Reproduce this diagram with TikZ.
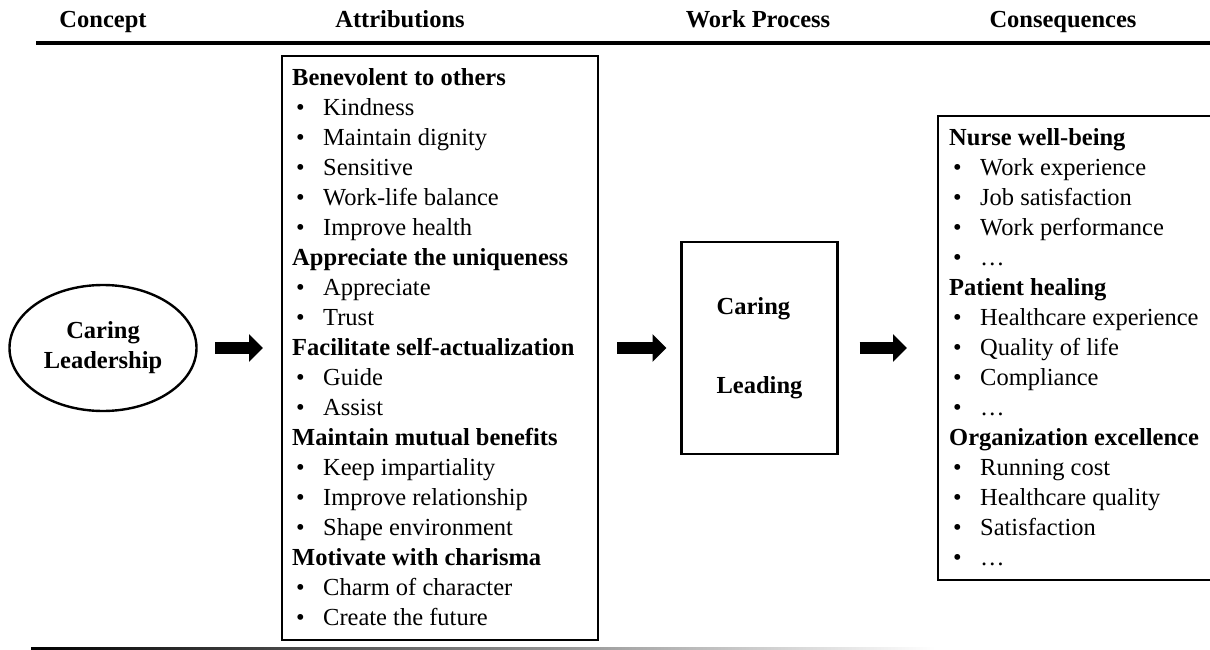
\documentclass[tikz,border=0pt]{standalone}
\usepackage{fontspec}
\setmainfont{Liberation Serif}
\usetikzlibrary{arrows.meta,shapes.geometric}

\newcommand{\bodyfont}{\fontsize{24.5pt}{30pt}\selectfont}
\newcommand{\itm}[1]{\hspace*{4pt}\makebox[27pt][l]{\textbullet}#1}

\begin{document}
\begin{tikzpicture}[x=1pt, y=-1pt, font=\bodyfont]

    \tikzstyle{head} = [font=\bodyfont\bfseries, anchor=base, inner sep=0pt]
    \tikzstyle{box} = [draw, line width=2.4pt, inner sep=0pt]
    \tikzstyle{list} = [align=left, anchor=west, inner sep=0pt]
    \tikzstyle{bigarrow} = [line width=12pt, -{Triangle[length=14pt,width=27pt]}]

    \useasboundingbox (0,0) rectangle (1210,650);
    \clip (0,0) rectangle (1210,650);

    % Column heads and rules
    \node[head] (concept) at (103,28) {Concept};
    \node[head] (attr) at (400,28) {Attributions};
    \node[head] (work) at (758,28) {Work Process};
    \node[head] (cons) at (1063,28) {Consequences};
    \draw[line width=4pt] (36,43) -- (1210,43);
    \shade[left color=black, right color=white] (31,647) rectangle (935,650.5);

    % Concept
    \node[box, ellipse, minimum width=187pt, minimum height=126pt,
        font=\bodyfont\bfseries, align=center] (lead) at (103,348) {Caring\\Leadership};

    % Attributions
    \node[box, minimum width=316pt, minimum height=584pt] (attrbox) at (440,348) {};
    \node[list] (attrlist) at (292,347) {\textbf{Benevolent to others}\\
        \itm{Kindness}\\
        \itm{Maintain dignity}\\
        \itm{Sensitive}\\
        \itm{Work-life balance}\\
        \itm{Improve health}\\
        \textbf{Appreciate the uniqueness}\\
        \itm{Appreciate}\\
        \itm{Trust}\\
        \textbf{Facilitate self-actualization}\\
        \itm{Guide}\\
        \itm{Assist}\\
        \textbf{Maintain mutual benefits}\\
        \itm{Keep impartiality}\\
        \itm{Improve relationship}\\
        \itm{Shape environment}\\
        \textbf{Motivate with charisma}\\
        \itm{Charm of character}\\
        \itm{Create the future}};

    % Work process
    \node[box, minimum width=156pt, minimum height=212pt, font=\bodyfont\bfseries,
        align=left] (workbox) at (759.5,348) {Caring\\[49pt]Leading};

    % Consequences
    \node[box, minimum width=300pt, minimum height=464pt] (consbox) at (1088,348) {};
    \node[list] (conslist) at (949,347) {\textbf{Nurse well-being}\\
        \itm{Work experience}\\
        \itm{Job satisfaction}\\
        \itm{Work performance}\\
        \itm{\dots}\\
        \textbf{Patient healing}\\
        \itm{Healthcare experience}\\
        \itm{Quality of life}\\
        \itm{Compliance}\\
        \itm{\dots}\\
        \textbf{Organization excellence}\\
        \itm{Running cost}\\
        \itm{Healthcare quality}\\
        \itm{Satisfaction}\\
        \itm{\dots}};

    % Arrows
    \draw[bigarrow, shorten <=17.5pt, shorten >=17.8pt] (lead) -- (attrbox);
    \draw[bigarrow, shorten <=17.8pt, shorten >=13.8pt] (attrbox) -- (workbox);
    \draw[bigarrow, shorten <=20.8pt, shorten >=29.8pt] (workbox) -- (consbox);

\end{tikzpicture}
\end{document}
